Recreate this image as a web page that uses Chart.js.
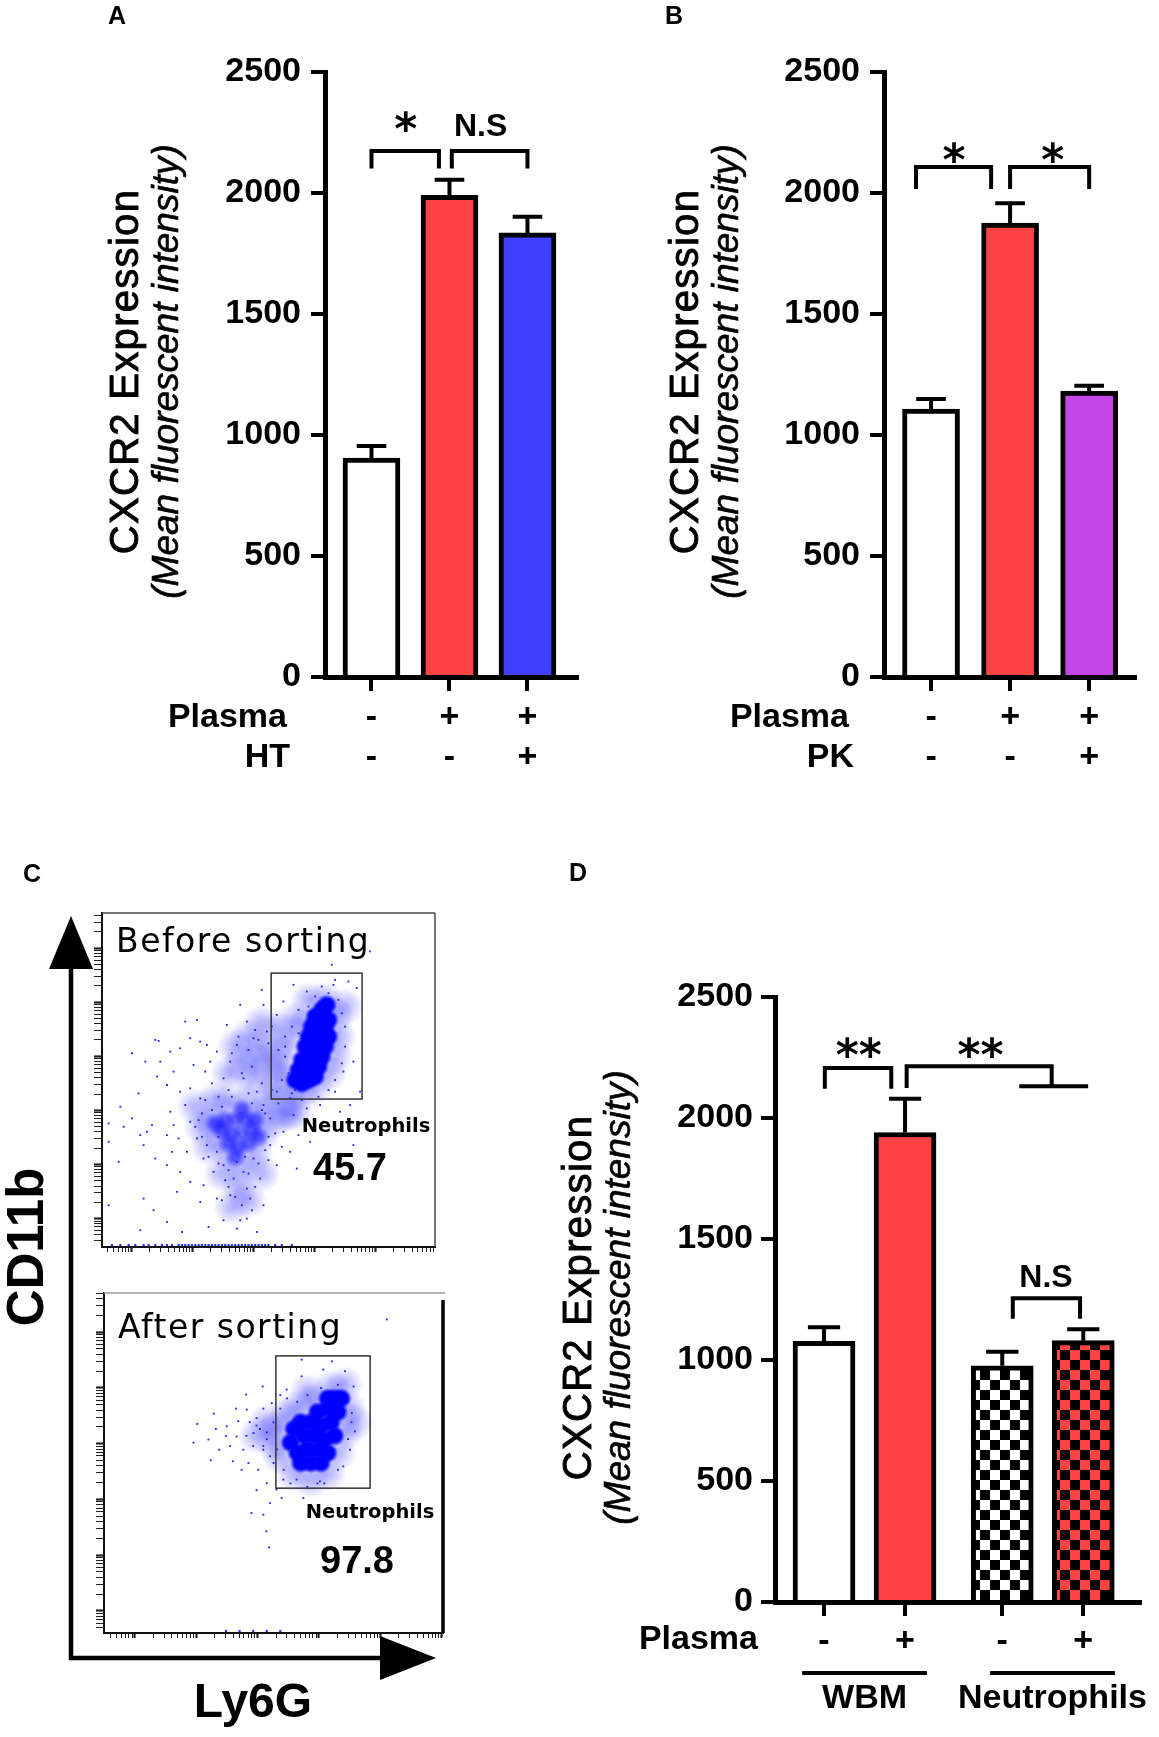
<!DOCTYPE html>
<html>
<head>
<meta charset="utf-8">
<title>CXCR2 expression</title>
<script src="https://cdn.jsdelivr.net/npm/chart.js@4.4.1/dist/chart.umd.min.js"></script>
<style>
  html, body { margin:0; padding:0; background:#ffffff; }
  #fig { position:relative; width:1159px; height:1737px; background:#ffffff; overflow:hidden; }
  #fig canvas { position:absolute; }
</style>
</head>
<body>
<div id="fig">
  <canvas id="chartA"></canvas>
  <canvas id="chartB"></canvas>
  <canvas id="chartC1"></canvas>
  <canvas id="chartC2"></canvas>
  <canvas id="chartD"></canvas>
</div>
<script>
// ======================= DATA =======================
const yTickValues = [0, 500, 1000, 1500, 2000, 2500];

// Panel A
const groupsA = ['Control', 'Plasma', 'Plasma + HT'];
const plasmaA = ['-', '+', '+'];
const htA     = ['-', '-', '+'];
const meanA   = [905, 1990, 1835];
const errA    = [50, 65, 67];

// Panel B
const groupsB = ['Control', 'Plasma', 'Plasma + PK'];
const plasmaB = ['-', '+', '+'];
const pkB     = ['-', '-', '+'];
const meanB   = [1107, 1876, 1181];
const errB    = [42, 82, 23];

// Panel D
const groupsD    = ['WBM -', 'WBM +', 'Neutrophils -', 'Neutrophils +'];
const plasmaD    = ['-', '+', '-', '+'];
const meanD      = [1077, 1940, 976, 1080];
const errD       = [58, 140, 58, 47];
const cellTypesD = ['WBM', 'Neutrophils'];

// Panel C (flow cytometry, % of plot box: [Ly6G, CD11b])
const gatePctBefore = '45.7';
const gatePctAfter  = '97.8';
const beforeCore = [[58,50],[60,49],[62,50],[64,51],[59,53],[61,53],[63,54],[65,54],[60,56],[62,57],[64,57],[66,57],
  [61,60],[63,60],[65,60],[67,60],[62,63],[64,63],[66,63],[68,63],[63,66],[65,66],[67,66],[64,69],[66,69],[68,68],[66,71],[67.5,72.5]];
const beforeMid = [[36,35],[39,34],[42,34],[45,35],[37,38],[40,38],[43,38],[38,31],[41,30],[44,31],[40,27],[46,38],[34,37],[47,33],[42,41]];
const beforeHaze = [[56,44],[60,46],[64,48],[68,52],[70,57],[71,63],[70,69],[67,74],[62,74],[58,68],[56,61],[54,54],[57,50],[63,56],[66,62],[61,66],[73,72],[52,48],
  [40,60],[44,63],[48,60],[52,58],[46,56],[50,53],[42,55],[38,52],[48,67],[53,65],[45,50],[55,40],[50,44],[58,40],
  [33,38],[36,33],[38,28],[42,24],[46,28],[48,34],[47,40],[43,43],[38,43],[34,44],[30,36],[32,30],[36,22],[41,18],[44,14],[39,12],[48,22],[28,42],[52,38]];
const beforeDots = [[16,62],[17,61.7],[9,58],[13,55.5],[17.5,55.5],[20.5,58.5],[25,67.5],[28.5,68],[26.5,62.5],[21.5,52.5],[16.5,51],[11,46],[5.5,42],
  [2,37],[2,31.5],[5,25.5],[6.5,36],[9,38.5],[11.5,33.5],[13.5,34.5],[15,36.5],[12.5,30.5],[16,26.5],[12.5,14.5],[2,12.5],[11.5,5],[15.5,11],[19.5,7.5],
  [22.5,16.5],[24,4.5],[32,6],[36.5,8],[43.5,8.5],[40.5,5.5],[46.5,4.5],[48.5,12.5],[44.5,14.5],[42,12.5],[38.5,15.5],[34.5,14.5],[29.5,13.5],[26.5,19.5],
  [30.5,18.5],[23.5,22.5],[19.5,24.5],[21,28.5],[23,32.5],[19.5,33.5],[20.5,40.5],[25,42.5],[29.5,44.5],[26.5,47.5],[31,52.5],[34.5,58.5],[32.5,55.5],
  [31.5,60.5],[37.5,66.5],[41.5,72.5],[48,77],[48.5,72.5],[52.5,24.5],[56.5,28.5],[50.5,30.5],[54.5,34.5],[59,33.5],[57.5,39.5],[61.5,41.5],[65.5,42.5],
  [70,46.5],[72.5,52.5],[75.5,55.5],[76.5,77.5],[74,79.5],[69.5,78.5],[69,84.5],[80.5,88.5],[57.5,78.5],[61.5,76.5],[54.5,73.5],[52.5,69.5],[49.5,64.5],
  [45.5,62.5],[43.5,67.5],[40.5,60.5],[38.5,55.5],[36.5,50.5],[42.5,50.5],[46.5,46.5],[48.5,42.5],[50.5,38.5],[52.5,46.5],[56.5,44.5],[26.5,37.5],
  [28.5,32.5],[30.5,26.5],[33.5,22.5],[36.5,24.5],[39.5,20.5],[42.5,22.5],[45.5,26.5],[47.5,20.5],[43.5,17.5],[40.5,25.5],[31.5,30.5],[34.5,28.5],
  [25.5,28.5],[21.5,36.5],[23.5,46.5],[27.5,54.5],[29.5,61.5],[23.5,59.5],[19.5,48.5],[58.5,23.5],[62.5,31.5],[66.5,37.5],[71.5,40.5],[75.5,30.5],
  [74.5,42.5],[77.5,46.5],[41.5,8],[35,45],[38,47],[33,49],[44,46],[30,40],[28,36],[52,34],[54,30],[50,26],[46,18],[38,18],[35,33],
  [39,58],[41,63],[44,59],[47,62],[50,61],[53,59],[55,63],[51,66],[46,65],[42,52],[45,54],[48,49],[51,47],[54,50],[57,46],[55,57],[53,43],[49,40],
  [33,41],[30,33],[32,27],[35,25],[38,23],[44,22],[47,25],[49,29],[50,33],[48,41],[45,43],[39,45],[36,42],[29,38],[31,44],[43,27],[37,20],[40,15],
  [45,11],[36,14],[57,66],[59,71],[62,72],[64,75],[68,76],[71,74],[72,70],[73,66],[73,60],[72,55],[70,50],[68,47],[65,45],[60,44],[58,47],[56,52],
  [55,60],[59,64],[70,80],[66,78]];
const beforeAxisDots = [[3,0.6],[5.5,0.6],[8,0.6],[10,0.6],[12.5,0.6],[14,0.6],[16,0.6],[18,0.6],[19.5,0.6],[21,0.6],[23,0.6],[24,0.6],[25,0.6],[26,0.6],
  [27,0.6],[28,0.6],[29,0.6],[30,0.6],[31,0.6],[32,0.6],[33,0.6],[34,0.6],[35,0.6],[36,0.6],[37,0.6],[38,0.6],[39,0.6],[40,0.6],[41,0.6],[42,0.6],
  [43,0.6],[44,0.6],[45,0.6],[46,0.6],[47,0.6],[48,0.6],[49,0.6],[50,0.6],[52,0.6],[54,0.6],[57,0.6]];
const afterCore = [[55,56],[57,53],[58,50],[61,50],[64,50],[66,53],[60,54],[63,54],[56,60],[59,58],[62,58],[65,57],[68,58],
  [58,62],[61,62],[64,61],[67,62],[63,65],[66,66],[69,65],[68,69],[70,69],[66,69]];
const afterHaze = [[51,60],[54,64],[57,66],[62,68],[67,72],[71,73],[72,66],[71,59],[69,53],[66,47],[61,45],[56,47],[52,52],[50,56],[48,62],[45,58],[60,71],[74,62]];
const afterDots = [[26.4,56],[27.5,61.5],[30.8,56.9],[32.4,64.5],[31.5,50.8],[34,53.9],[36.2,60.8],[37.2,55],[39.1,57.8],[39.6,62.3],[41.9,70.1],
  [42.1,65.7],[41.1,53.9],[42.6,50],[44.1,58.8],[45,63.2],[46.8,72.5],[47,53.9],[45.5,48],[48,44.1],[49.5,67.6],[50,50],[58.3,75.5],[67.2,79.9],
  [71.1,77],[73.6,72.5],[74,59.3],[73.1,64.7],[72.6,53.9],[70.6,49],[63.7,44.6],[56.8,45.1],[52.9,45.1],[50.9,42.2],[49,38.2],[52.4,39.7],[58.8,39.7],
  [47,34.8],[43.5,35.3],[47.9,29.9],[48.7,25.2],[63,44],[83.4,92.2],[58.3,80.4],[53.9,71.6],[64.7,77.5],[54.9,53.9],[39,66],[40.6,48],[45,42],[38,50.5],
  [44,55],[46,60],[48,57],[43,62],[36,58],[33,60],[47,66],[52,70],
  [50,62],[52,66],[54,69],[48,59],[47,55],[51,54],[53,48],[55,44],[60,43],[65,44],[69,48],[72,57],[73,62],[72,68],[69,73],[64,72],[60,70],[57,68],
  [45,61],[42,58],[49,52]];
const afterAxisDots = [[36,0.6],[40,0.6],[44,0.6],[48,0.6],[52,0.6]];

// ======================= HELPERS =======================
const FONT = '"Liberation Sans", Arial, Helvetica, sans-serif';
const FONT2 = '"DejaVu Sans", Verdana, sans-serif';
Chart.defaults.font.family = FONT;
Chart.defaults.color = '#000';

function place(id, left, top, w, h) {
  const c = document.getElementById(id);
  c.width = w; c.height = h;
  c.style.left = left + 'px'; c.style.top = top + 'px';
  c.style.width = w + 'px'; c.style.height = h + 'px';
  return c;
}

function drawText(ctx, t) {
  ctx.save();
  ctx.font = t.font;
  ctx.fillStyle = t.color || '#000';
  ctx.textAlign = t.align || 'left';
  ctx.textBaseline = t.baseline || 'alphabetic';
  if ('letterSpacing' in ctx) ctx.letterSpacing = t.spacing || '0px';
  ctx.translate(t.x, t.y);
  if (t.rot) ctx.rotate(t.rot);
  ctx.fillText(t.text, 0, 0);
  if (t.stroke) { ctx.lineWidth = t.stroke; ctx.strokeStyle = t.color || '#000'; ctx.strokeText(t.text, 0, 0); }
  ctx.restore();
}

function barPlugin(p) {
  return {
    id: 'barExtras',
    afterDatasetsDraw(chart) {
      const ctx = chart.ctx, ys = chart.scales.y;
      const meta = chart.getDatasetMeta(0);
      ctx.save();
      ctx.strokeStyle = '#000'; ctx.lineWidth = 4; ctx.lineCap = 'butt';
      meta.data.forEach((bar, i) => {
        const top = ys.getPixelForValue(p.means[i] + p.errs[i]);
        const half = bar.width * 0.26;
        ctx.beginPath();
        ctx.moveTo(bar.x, bar.y); ctx.lineTo(bar.x, top);
        ctx.moveTo(bar.x - half, top); ctx.lineTo(bar.x + half, top);
        ctx.stroke();
      });
      ctx.restore();
    },
    afterDraw(chart) {
      const ctx = chart.ctx, xs = chart.scales.x, ys = chart.scales.y, ca = chart.chartArea;
      ctx.save();
      ctx.strokeStyle = '#000'; ctx.lineWidth = 4; ctx.lineJoin = 'miter'; ctx.lineCap = 'butt';
      (p.brackets || []).forEach(b => {
        const x1 = xs.getPixelForValue(b.from), x2 = xs.getPixelForValue(b.to);
        const yt = ys.getPixelForValue(b.top);
        ctx.beginPath();
        ctx.moveTo(x1, ys.getPixelForValue(b.legL));
        ctx.lineTo(x1, yt); ctx.lineTo(x2, yt);
        ctx.lineTo(x2, ys.getPixelForValue(b.legR));
        if (b.bar) {
          const yb = ys.getPixelForValue(b.bar[2]);
          ctx.moveTo(xs.getPixelForValue(b.bar[0]), yb);
          ctx.lineTo(xs.getPixelForValue(b.bar[1]), yb);
        }
        ctx.stroke();
        drawText(ctx, { text: b.label, font: b.label.indexOf('*') >= 0 ? 'bold 44px ' + FONT2 : 'bold 32px ' + FONT,
          x: xs.getPixelForValue(b.lx), y: ys.getPixelForValue(b.ly), align: 'center' });
      });
      (p.spans || []).forEach(g => {
        const x1 = xs.getPixelForValue(g.span[0]), x2 = xs.getPixelForValue(g.span[1]);
        ctx.beginPath(); ctx.moveTo(x1, ca.bottom + g.lineDy); ctx.lineTo(x2, ca.bottom + g.lineDy); ctx.stroke();
        drawText(ctx, { text: g.text, font: 'bold 34px ' + FONT, x: (x1 + x2) / 2, y: ca.bottom + g.textDy, align: 'center', baseline: 'middle' });
      });
      ctx.restore();
      const cy = (ca.top + ca.bottom) / 2 + p.titleDy;
      p.titles.forEach(l => drawText(ctx, { text: l.text, font: l.font, spacing: l.spacing, stroke: l.stroke, x: ca.left + l.dx, y: cy, align: 'center', rot: -Math.PI / 2 }));
      p.rowLabels.forEach(r => drawText(ctx, { text: r.text, font: 'bold 34px ' + FONT, x: ca.left + r.dx, y: ca.bottom + r.dy, align: 'right', baseline: 'middle' }));
      drawText(ctx, { text: p.panel, font: 'bold 25px ' + FONT, x: p.panelXY[0], y: p.panelXY[1], align: 'center', baseline: 'middle' });
    }
  };
}

function barChart(p) {
  const canvas = place(p.id, p.left, p.top, p.w, p.h);
  const a = p.area;
  const fills = typeof p.fills === 'function' ? p.fills(canvas) : p.fills;
  const gridOpts = { display: true, drawOnChartArea: false, drawTicks: true, tickLength: 14, color: '#000', lineWidth: 4, offset: false };
  return new Chart(canvas, {
    type: 'bar',
    data: {
      labels: p.groups,
      datasets: [{
        data: p.means.map((v, i) => ({ x: p.slots[i], y: v })),
        backgroundColor: fills,
        borderColor: '#000',
        borderWidth: 5,
        barThickness: p.barW
      }]
    },
    options: {
      responsive: false, animation: false, devicePixelRatio: 1, events: [],
      layout: { padding: { left: 0, top: a.t, right: p.w - a.r, bottom: 0 } },
      plugins: { legend: { display: false }, tooltip: { enabled: false } },
      scales: {
        x: {
          type: 'linear', min: p.xMin, max: p.xMax, offset: false,
          afterBuildTicks: s => { s.ticks = p.slots.map(v => ({ value: v })); },
          afterFit: s => { s.height = p.h - a.b; },
          ticks: { autoSkip: false, maxRotation: 0, minRotation: 0, padding: p.xPad, color: '#000',
            font: { size: 34, weight: 'bold', lineHeight: 40 / 34 },
            callback: (v, i) => p.rows.length > 1 ? p.rows.map(r => r[i]) : p.rows[0][i] },
          grid: gridOpts,
          border: { display: true, color: '#000', width: 5 }
        },
        y: {
          type: 'linear', min: 0, max: 2500,
          afterBuildTicks: s => { s.ticks = yTickValues.map(v => ({ value: v })); },
          afterFit: s => { s.width = a.l; },
          ticks: { padding: p.yPad, color: '#000', font: { size: 34, weight: 'bold' }, callback: v => String(v) },
          grid: gridOpts,
          border: { display: true, color: '#000', width: 5 }
        }
      }
    },
    plugins: [barPlugin(p)]
  });
}

function logTicks(offset, decade) {
  const out = [];
  for (let k = -1; k <= 6; k++) for (let m = 1; m <= 9; m++) {
    const v = offset + decade * (k + Math.log10(m));
    if (v > 0.6 && v <= 100) out.push({ value: v, major: m === 1 });
  }
  return out;
}

// soft round marker images used as point styles for the density clouds
function blob(r, solidFrac, rgb, alpha) {
  const c = document.createElement('canvas');
  c.width = c.height = Math.ceil(2 * r);
  const g = c.getContext('2d');
  const grad = g.createRadialGradient(r, r, 0, r, r, r);
  grad.addColorStop(0, 'rgba(' + rgb + ',' + alpha + ')');
  grad.addColorStop(solidFrac, 'rgba(' + rgb + ',' + alpha + ')');
  grad.addColorStop(1, 'rgba(' + rgb + ',0)');
  g.fillStyle = grad;
  g.beginPath(); g.arc(r, r, r, 0, Math.PI * 2); g.fill();
  return c;
}

function scatterPlugin(p) {
  return {
    id: 'scatterExtras',
    afterDraw(chart) {
      const ctx = chart.ctx, xs = chart.scales.x, ys = chart.scales.y, ca = chart.chartArea;
      ctx.save();
      ctx.lineCap = 'butt';
      p.frame.forEach(f => {
        ctx.strokeStyle = f.color; ctx.lineWidth = f.w;
        ctx.beginPath();
        if (f.side === 'top') { ctx.moveTo(ca.left, ca.top); ctx.lineTo(ca.right + (f.ext || 0), ca.top); }
        else { ctx.moveTo(ca.right, ca.top + (f.inset || 0)); ctx.lineTo(ca.right, ca.bottom); }
        ctx.stroke();
      });
      ctx.strokeStyle = '#333'; ctx.lineWidth = 1.5;
      const gx1 = xs.getPixelForValue(p.gate[0]), gx2 = xs.getPixelForValue(p.gate[1]);
      const gy1 = ys.getPixelForValue(p.gate[3]), gy2 = ys.getPixelForValue(p.gate[2]);
      ctx.strokeRect(gx1, gy1, gx2 - gx1, gy2 - gy1);
      if (p.arrows) {
        ctx.fillStyle = '#000'; ctx.strokeStyle = '#000'; ctx.lineWidth = 4.5; ctx.lineJoin = 'miter';
        const A = p.arrows;
        ctx.beginPath(); ctx.moveTo(A.x0, A.yTopBase); ctx.lineTo(A.x0, A.y0); ctx.lineTo(A.xRightBase, A.y0); ctx.stroke();
        ctx.beginPath(); ctx.moveTo(A.x0, A.yApex); ctx.lineTo(A.x0 + A.half, A.yTopBase); ctx.lineTo(A.x0 - A.half, A.yTopBase); ctx.closePath(); ctx.fill();
        ctx.beginPath(); ctx.moveTo(A.xApex, A.y0); ctx.lineTo(A.xRightBase, A.y0 - A.half); ctx.lineTo(A.xRightBase, A.y0 + A.half); ctx.closePath(); ctx.fill();
      }
      ctx.restore();
      p.texts.forEach(t => drawText(ctx, t));
    }
  };
}

function scatterChart(p) {
  const canvas = place(p.id, p.left, p.top, p.w, p.h);
  const a = p.area;
  const axis = (len, ticks, fitKey, fitVal) => ({
    type: 'linear', min: 0, max: 100,
    afterBuildTicks: s => { s.ticks = ticks; },
    afterFit: s => { s[fitKey] = fitVal; },
    ticks: { display: false },
    grid: { display: true, drawOnChartArea: false, drawTicks: true, tickLength: len, color: '#222', lineWidth: 1,
      tickWidth: c => (c.tick && c.tick.major) ? 2.2 : 1 },
    border: { display: true, color: '#111', width: 2 }
  });
  const pts = arr => arr.map(d => ({ x: d[0], y: d[1] }));
  const ds = [
    { data: pts(p.dots), pointStyle: 'rect', pointRadius: 1.3, backgroundColor: '#1f1fff', borderWidth: 0, order: 1 },
    { data: pts(p.axisDots), pointStyle: 'rect', pointRadius: 1.5, backgroundColor: '#2a2aff', borderWidth: 0, order: 1 },
    { data: pts(p.core), pointStyle: blob(10.5, 0.62, '0,0,255', 1), pointRadius: 2, borderWidth: 0, order: 2 }
  ];
  if (p.mid) ds.push({ data: pts(p.mid), pointStyle: blob(11, 0.35, '0,0,255', 0.55), pointRadius: 2, borderWidth: 0, order: 3 });
  ds.push({ data: pts(p.haze), pointStyle: blob(19, 0.15, '20,20,255', 0.3), pointRadius: 2, borderWidth: 0, order: 4 });
  return new Chart(canvas, {
    type: 'scatter',
    data: { datasets: ds },
    options: {
      responsive: false, animation: false, devicePixelRatio: 1, events: [],
      layout: { padding: { left: 0, top: a.t, right: p.w - a.r, bottom: 0 } },
      plugins: { legend: { display: false }, tooltip: { enabled: false } },
      scales: {
        x: axis(5, logTicks(p.xLog[0], p.xLog[1]), 'height', p.h - a.b),
        y: axis(8, logTicks(p.yLog[0], p.yLog[1]), 'width', a.l)
      }
    },
    plugins: [scatterPlugin(p)]
  });
}

const titleLines = (d1, d2) => [
  { text: 'CXCR2 Expression', font: '40px ' + FONT, spacing: '1.3px', stroke: 0.9, dx: d1 },
  { text: '(Mean fluorescent intensity)', font: 'italic 37px ' + FONT, stroke: 0.6, dx: d2 }
];

// ======================= PANEL A =======================
barChart({
  id: 'chartA', left: 0, top: 0, w: 580, h: 800,
  area: { l: 325, r: 577, t: 72, b: 677 },
  groups: groupsA, means: meanA, errs: errA,
  slots: [0, 1, 2], xMin: -0.596, xMax: 2.635, barW: 57,
  fills: ['#ffffff', '#ff4242', '#4040ff'],
  rows: [plasmaA, htA], xPad: 7, yPad: 10,
  brackets: [
    { from: 0, to: 0.865, top: 2174, legL: 2101, legR: 2101, label: '*', lx: 0.44, ly: 2202 },
    { from: 1.03, to: 2.0, top: 2174, legL: 2101, legR: 2101, label: 'N.S', lx: 1.40, ly: 2234 }
  ],
  titles: titleLines(-187, -147), titleDy: -3,
  rowLabels: [{ text: 'Plasma', dx: -38, dy: 41 }, { text: 'HT', dx: -35, dy: 81 }],
  panel: 'A', panelXY: [117, 17]
});

// ======================= PANEL B =======================
barChart({
  id: 'chartB', left: 558, top: 0, w: 601, h: 800,
  area: { l: 326, r: 577, t: 72, b: 677 },
  groups: groupsB, means: meanB, errs: errB,
  slots: [0, 1, 2], xMin: -0.595, xMax: 2.58, barW: 57,
  fills: ['#ffffff', '#ff4242', '#c445e8'],
  rows: [plasmaB, pkB], xPad: 7, yPad: 10,
  brackets: [
    { from: -0.19, to: 0.76, top: 2107, legL: 2017, legR: 2017, label: '*', lx: 0.29, ly: 2074 },
    { from: 1.0, to: 2.0, top: 2107, legL: 2017, legR: 2017, label: '*', lx: 1.54, ly: 2074 }
  ],
  titles: titleLines(-186, -146), titleDy: -3,
  rowLabels: [{ text: 'Plasma', dx: -35, dy: 41 }, { text: 'PK', dx: -30, dy: 81 }],
  panel: 'B', panelXY: [116, 17]
});

// ======================= PANEL D =======================
function checker(canvas, c1, c2, size) {
  const off = document.createElement('canvas');
  off.width = off.height = size * 2;
  const g = off.getContext('2d');
  g.fillStyle = c2; g.fillRect(0, 0, size * 2, size * 2);
  g.fillStyle = c1; g.fillRect(0, 0, size, size); g.fillRect(size, size, size, size);
  return canvas.getContext('2d').createPattern(off, 'repeat');
}
barChart({
  id: 'chartD', left: 540, top: 850, w: 619, h: 887,
  area: { l: 235, r: 600, t: 147, b: 752 },
  groups: groupsD, means: meanD, errs: errD,
  slots: [0, 1, 2.2, 3.2], xMin: -0.605, xMax: 3.9, barW: 62,
  fills: cv => ['#ffffff', '#ff4242', checker(cv, '#000000', '#ffffff', 10), checker(cv, '#000000', '#ff4242', 10)],
  rows: [plasmaD], xPad: 6, yPad: 8,
  brackets: [
    { from: 0.01, to: 0.83, top: 2207, legL: 2121, legR: 2121, label: '**', lx: 0.43, ly: 2198 },
    { from: 1.02, to: 2.81, top: 2214, legL: 2124, legR: 2131, label: '**', lx: 1.93, ly: 2198, bar: [2.41, 3.26, 2131] },
    { from: 2.33, to: 3.16, top: 1255, legL: 1170, legR: 1170, label: 'N.S', lx: 2.74, ly: 1300 }
  ],
  spans: [
    { text: cellTypesD[0], span: [-0.27, 1.27], lineDy: 71, textDy: 97 },
    { text: cellTypesD[1], span: [2.05, 3.59], lineDy: 71, textDy: 97 }
  ],
  titles: titleLines(-184, -145), titleDy: -2,
  rowLabels: [{ text: 'Plasma', dx: -17, dy: 38 }],
  panel: 'D', panelXY: [38, 24]
});

// ======================= PANEL C =======================
scatterChart({
  id: 'chartC1', left: 0, top: 860, w: 470, h: 400,
  area: { l: 102, r: 435, t: 53, b: 387 },
  core: beforeCore, mid: beforeMid, haze: beforeHaze, dots: beforeDots, axisDots: beforeAxisDots,
  xLog: [8.9, 18.3], yLog: [8.5, 16.2],
  gate: [50.8, 78.1, 44.3, 82.0],
  frame: [{ side: 'top', color: '#444', w: 1.5 }, { side: 'right', color: '#444', w: 1.5 }],
  texts: [
    { text: 'Before sorting', font: '33px ' + FONT2, x: 116, y: 92, spacing: '1.5px' },
    { text: 'Neutrophils', font: 'bold 19.5px ' + FONT2, x: 366, y: 267, align: 'center', baseline: 'middle' },
    { text: gatePctBefore, font: 'bold 38px ' + FONT, x: 350, y: 320, align: 'center' }
  ]
});
scatterChart({
  id: 'chartC2', left: 0, top: 860, w: 470, h: 877,
  area: { l: 104, r: 443, t: 433, b: 773 },
  core: afterCore, mid: null, haze: afterHaze, dots: afterDots, axisDots: afterAxisDots,
  xLog: [9.1, 18.1], yLog: [6.5, 16.4],
  gate: [50.7, 78.5, 42.6, 81.5],
  frame: [{ side: 'top', color: '#9a9a9a', w: 1.5, ext: 2 }, { side: 'right', color: '#000', w: 3.5, inset: 7 }],
  arrows: { x0: 71, y0: 798, yApex: 56, yTopBase: 109, xApex: 436, xRightBase: 380, half: 22 },
  texts: [
    { text: 'After sorting', font: '33px ' + FONT2, x: 118, y: 478, spacing: '1.5px' },
    { text: 'Neutrophils', font: 'bold 19.5px ' + FONT2, x: 370, y: 653, align: 'center', baseline: 'middle' },
    { text: gatePctAfter, font: 'bold 38px ' + FONT, x: 357, y: 713, align: 'center' },
    { text: 'CD11b', font: 'bold 51px ' + FONT, x: 43, y: 387, align: 'center', rot: -Math.PI / 2 },
    { text: 'Ly6G', font: 'bold 48px ' + FONT, x: 253, y: 857, align: 'center' },
    { text: 'C', font: 'bold 25px ' + FONT, x: 32, y: 15, align: 'center', baseline: 'middle' }
  ]
});
</script>
</body>
</html>
